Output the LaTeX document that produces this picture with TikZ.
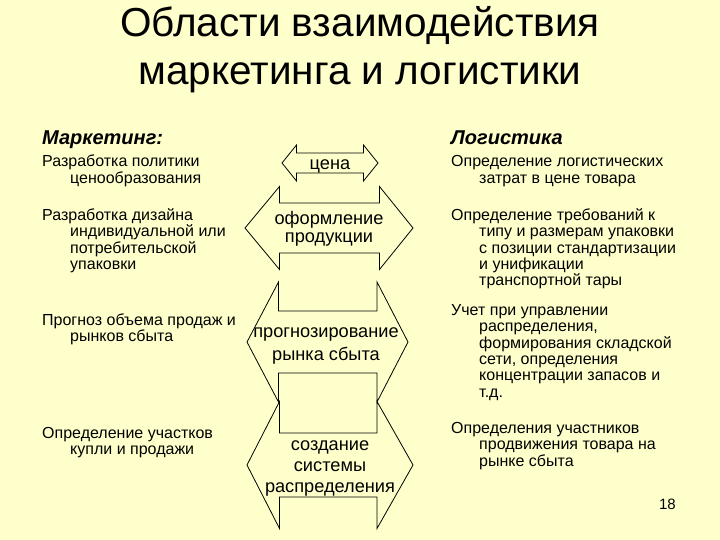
\documentclass[tikz,border=0pt]{standalone}
\usepackage{fontspec}
\setmainfont{Liberation Sans}
\definecolor{bg}{HTML}{FFFFCC}
\newcommand\fl{\rule{0pt}{0.8em}}
\newcommand\ind{\hspace*{28pt}}
\newcommand\dblarrow[7]{% lx rx hlx hrx cy hh sh
  \filldraw[arrowline] (#1,#5) -- (#3,#5-#6) -- (#3,#5-#7) -- (#4,#5-#7) -- (#4,#5-#6) -- (#2,#5)
    -- (#4,#5+#6) -- (#4,#5+#7) -- (#3,#5+#7) -- (#3,#5+#6) -- cycle;}
\begin{document}
\begin{tikzpicture}[x=1pt,y=-1pt,
  body/.style={anchor=north west, align=left, inner sep=0pt, font=\fontsize{16}{16.4}\selectfont},
  head/.style={anchor=base west, inner sep=0pt, font=\fontsize{20}{22}\selectfont\bfseries\itshape},
  atext/.style={anchor=base, inner sep=0pt, font=\fontsize{18.2}{21}\selectfont},
  arrowline/.style={draw=black, fill=bg, line width=0.8pt, line join=miter}]
\fill[bg] (0,0) rectangle (720,540);
\useasboundingbox (0,0) rectangle (720,540);
% title
\node[anchor=north, align=center, inner sep=0pt, font=\fontsize{40.5}{48}\selectfont] (title) at (360,3.6)
  {\fl Области взаимодействия\\маркетинга и логистики};
% headings
\node[head] (hm) at (42,145) {Маркетинг:};
\node[head] (hl) at (451,145) {Логистика};
% left column
\node[body] (m1) at (42,153.9) {\fl Разработка политики\\\ind ценообразования};
\node[body] (m2) at (42,207.2) {\fl Разработка дизайна\\\ind индивидуальной или\\\ind потребительской\\\ind упаковки};
\node[body] (m3) at (42,312.2) {\fl Прогноз объема продаж и\\\ind рынков сбыта};
\node[body] (m4) at (42,425.5) {\fl Определение участков\\\ind купли и продажи};
% right column
\node[body] (l1) at (451,153.9) {\fl Определение логистических\\\ind затрат в цене товара};
\node[body] (l2) at (451,207.2) {\fl Определение требований к\\\ind типу и размерам упаковки\\\ind с позиции стандартизации\\\ind и унификации\\\ind транспортной тары};
\node[body] (l3) at (451,302.2) {\fl Учет при управлении\\\ind распределения,\\\ind формирования складской\\\ind сети, определения\\\ind концентрации запасов и\\\ind т.д.};
\node[body] (l4) at (451,420.5) {\fl Определения участников\\\ind продвижения товара на\\\ind рынке сбыта};
% arrows
\dblarrow{282}{378}{296.5}{363.5}{163}{18}{10}
\dblarrow{245}{413}{279.5}{379.5}{228}{41.5}{25}
\dblarrow{247}{408}{278.5}{377}{342}{60}{31}
\dblarrow{247}{413}{279.5}{377}{465}{63.5}{32}
% arrow labels
\node[atext] (a1) at (330,169.3) {цена};
\node[atext] (a2a) at (329,224.5) {оформление};
\node[atext] (a2b) at (329,243) {продукции};
\node[atext] (a3a) at (326,337) {прогнозирование};
\node[atext] (a3b) at (326,360) {рынка сбыта};
\node[atext] (a4a) at (330,450) {создание};
\node[atext] (a4b) at (330,471.5) {системы};
\node[atext] (a4c) at (330,492) {распределения};
% page number
\node[anchor=base east, inner sep=0pt, font=\fontsize{15}{17}\selectfont] (pn) at (676,509) {18};
\end{tikzpicture}
\end{document}
